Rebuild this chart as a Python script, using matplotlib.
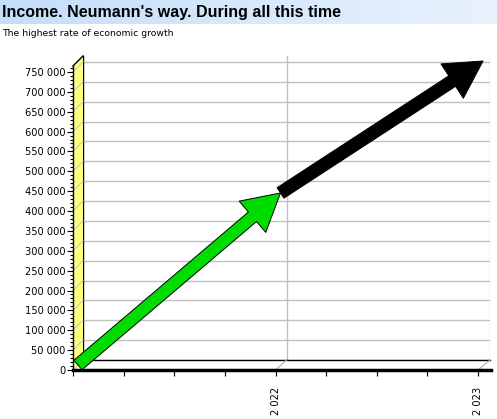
import numpy as np
import matplotlib
matplotlib.use("Agg")
import matplotlib.pyplot as plt
from matplotlib.patches import FancyArrowPatch, ArrowStyle, Polygon
from matplotlib.lines import Line2D
from matplotlib.ticker import MultipleLocator, FixedLocator, FuncFormatter
from matplotlib.transforms import offset_copy, IdentityTransform

# Data
years = [2021, 2022, 2023]
income = [0, 433000, 765000]
arrow_colors = ["#00DC00", "#000000"]
title = "Income. Neumann's way. During all this time"
subtitle = "The highest rate of economic growth"

W, H = 497, 419
DEPTH = 10  # 3D depth offset in pixels
YMAX = 765000

fig = plt.figure(figsize=(W / 100, H / 100), dpi=100)
fig.patch.set_facecolor("white")


def box(left, top, right, bottom):
    # pixel box (from top-left) -> figure fraction rect
    return [left / W, 1 - bottom / H, (right - left) / W, (bottom - top) / H]


# Title bar with light blue gradient
bar = fig.add_axes(box(0, 0, W, 24))
grad = np.linspace(0, 1, 256).reshape(1, -1)
c0 = np.array([196, 222, 249]) / 255
c1 = np.array([232, 242, 253]) / 255
img = c0[None, None, :] * (1 - grad[..., None]) + c1[None, None, :] * grad[..., None]
bar.imshow(img, aspect="auto", extent=[0, 1, 0, 1])
bar.axis("off")
fig.text(2 / W, 1 - 12.5 / H, title, fontsize=11.5, fontweight="bold",
         family="Liberation Sans", va="center", ha="left")
fig.text(2 / W, 1 - 33 / H, subtitle, fontsize=6.7, family="DejaVu Sans",
         va="center", ha="left")

# Back wall
back = fig.add_axes(box(73 + DEPTH, 66 - DEPTH, 480 + DEPTH, 370 - DEPTH), zorder=0)
back.set_xlim(2021, 2023)
back.set_ylim(0, YMAX)
back.set_yticks(np.arange(0, 750001, 50000))
back.set_xticks([2022, 2023])
back.grid(True, color="#C0C0C0", lw=1)
back.tick_params(length=0, labelleft=False, labelbottom=False)
for s in ["top", "right"]:
    back.spines[s].set_visible(False)
for s in ["left", "bottom"]:
    back.spines[s].set_linewidth(1)

# Front axes
ax = fig.add_axes(box(73, 66, 491, 370), zorder=2)
ax.patch.set_visible(False)
ax.set_xlim(2021, 2023 + 13 / 203)
ax.set_ylim(0, YMAX)
for s in ["top", "right"]:
    ax.spines[s].set_visible(False)
ax.spines["left"].set_linewidth(1)
ax.spines["bottom"].set_linewidth(2.5)
ax.yaxis.set_major_locator(MultipleLocator(50000))
ax.yaxis.set_minor_locator(MultipleLocator(10000))
ax.yaxis.set_major_formatter(FuncFormatter(lambda v, p: f"{int(round(v)):,}".replace(",", " ")))
ax.xaxis.set_major_locator(FixedLocator([2022, 2023]))
ax.xaxis.set_minor_locator(MultipleLocator(0.25))
ax.xaxis.set_major_formatter(FuncFormatter(lambda v, p: f"{int(round(v)):,}".replace(",", " ")))
ax.tick_params(axis="y", which="major", length=4.5, width=0.8, pad=1, labelsize=7.1)
ax.tick_params(axis="y", which="minor", length=2.2, width=0.8)
ax.tick_params(axis="x", which="major", length=4, width=0.8, pad=8.5, labelsize=7.1,
               labelrotation=90)
ax.tick_params(axis="x", which="minor", length=4, width=0.8)
for lab in ax.get_xticklabels():
    lab.set_va("top")

# Left (yellow) wall and depth lines, computed from both axes
fa = ax.transAxes.transform
ba = back.transAxes.transform
wall = Polygon([fa((0, 0)), fa((0, 1)), ba((0, 1)), ba((0, 0))], closed=True,
               facecolor="#FFFF80", edgecolor="none", transform=IdentityTransform(), zorder=1)
fig.add_artist(wall)
p, q = fa((0, 1)), ba((0, 1))
fig.add_artist(Line2D([p[0], q[0]], [p[1], q[1]], color="black", lw=1,
                      transform=IdentityTransform(), zorder=1.1))
for v in np.arange(0, 750001, 50000):
    p = ax.transData.transform((2021, v))
    q = back.transData.transform((2021, v))
    fig.add_artist(Line2D([p[0], q[0]], [p[1], q[1]], color="#C8C8C8", lw=0.8,
                          transform=IdentityTransform(), zorder=1.05))
for x in [2022, 2023]:
    p = ax.transData.transform((x, 0))
    q = back.transData.transform((x, 0))
    fig.add_artist(Line2D([p[0], q[0]], [p[1], q[1]], color="#B0B0B0", lw=0.8,
                          transform=IdentityTransform(), zorder=1.05))

# Arrows drawn at mid depth
mid = offset_copy(ax.transData, fig=fig, x=DEPTH / 2, y=DEPTH / 2, units="dots")
style = ArrowStyle.Simple(head_length=26.5, head_width=29.5, tail_width=9)
for i in range(len(years) - 1):
    arr = FancyArrowPatch((years[i], income[i]), (years[i + 1], income[i + 1]),
                          arrowstyle=style, mutation_scale=1, shrinkA=0, shrinkB=0,
                          facecolor=arrow_colors[i], edgecolor="black", lw=0.7,
                          transform=mid, clip_on=False, zorder=3)
    ax.add_patch(arr)

fig.savefig("out.png", dpi=100)
